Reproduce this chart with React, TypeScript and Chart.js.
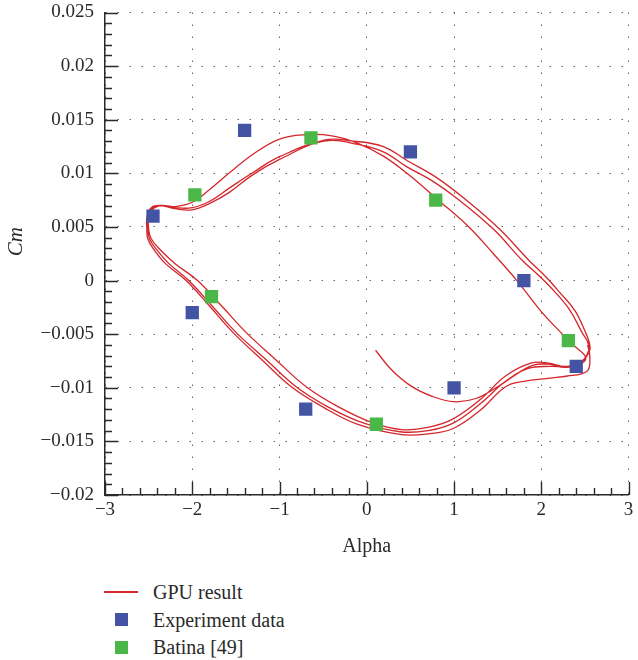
import React, { useEffect, useRef } from 'react';
import { Chart, registerables } from 'chart.js';

Chart.register(...registerables);

const FONT = '"Liberation Serif", "Times New Roman", Times, "DejaVu Serif", serif';
const INK = '#2a2a2a';
const GPU_COLOR = 'rgb(212, 38, 44)';
const EXP_COLOR = 'rgb(67, 84, 164)';
const BATINA_COLOR = 'rgb(75, 183, 72)';

const seriesNames = ['GPU result', 'Experiment data', 'Batina [49]'];
const xAxisTitle = 'Alpha';
const yAxisTitle = 'Cm';

// Measured pitching-moment coefficients
const experimentAlpha = [-2.45, -1.4, 0.5, -2.0, -0.7, 1.8, 1.0, 2.4];
const experimentCm = [0.006, 0.014, 0.012, -0.003, -0.012, 0.0, -0.01, -0.008];

// Reference solution
const batinaAlpha = [-1.97, -0.64, 0.79, -1.78, 2.31, 0.11];
const batinaCm = [0.008, 0.0133, 0.0075, -0.0015, -0.0056, -0.0134];

// GPU solver history, [alpha, Cm], split into its successive branches
const gpuStart: [number, number][] = [
  [0.10, -0.0065], [0.28, -0.0083], [0.50, -0.0098], [0.75, -0.0108], [1.00, -0.0113],
  [1.25, -0.0110], [1.50, -0.0099], [1.72, -0.0087], [1.90, -0.0079], [2.08, -0.0078],
  [2.27, -0.0081], [2.42, -0.0079], [2.51, -0.0072],
];
const gpuUpper1: [number, number][] = [
  [2.38, -0.0061], [2.23, -0.0049], [1.99, -0.0028], [1.72, 0.0000], [1.45, 0.0025],
  [1.17, 0.0050], [0.82, 0.0075], [0.46, 0.0100], [0.19, 0.0116], [-0.10, 0.0128],
  [-0.40, 0.0135], [-0.71, 0.0136], [-1.00, 0.0132], [-1.30, 0.0118], [-1.58, 0.0100],
  [-1.80, 0.0085], [-2.00, 0.0073], [-2.20, 0.0069], [-2.36, 0.0070], [-2.46, 0.0066],
  [-2.50, 0.0057],
];
const gpuLower1: [number, number][] = [
  [-2.50, 0.0048], [-2.47, 0.0039], [-2.37, 0.0029], [-2.20, 0.0016], [-1.94, 0.0000],
  [-1.66, -0.0024], [-1.375, -0.0049], [-1.04, -0.0074], [-0.695, -0.0099], [-0.32, -0.0118],
  [0.08, -0.0133], [0.40, -0.0139], [0.70, -0.0137], [0.99, -0.0129], [1.30, -0.0111],
  [1.59, -0.0089], [1.88, -0.0077], [2.08, -0.0077], [2.27, -0.0080], [2.44, -0.0077],
  [2.54, -0.0066],
];
const gpuUpper2: [number, number][] = [
  [2.53, -0.0057], [2.47, -0.0049], [2.33, -0.0028], [2.16, -0.0011], [1.98, 0.0004],
  [1.78, 0.0019], [1.45, 0.0048], [1.06, 0.0075], [0.75, 0.0093], [0.46, 0.0106],
  [0.19, 0.0120], [-0.10, 0.0127], [-0.49, 0.0130], [-1.00, 0.01155], [-1.30, 0.0101],
  [-1.58, 0.0086], [-1.80, 0.0074], [-2.00, 0.0068], [-2.20, 0.0068], [-2.36, 0.0070],
  [-2.47, 0.0067], [-2.51, 0.0058],
];
const gpuLower2: [number, number][] = [
  [-2.51, 0.0048], [-2.49, 0.0039], [-2.41, 0.0029], [-2.27, 0.0016], [-2.04, 0.0000],
  [-1.77, -0.0024], [-1.49, -0.0049], [-1.15, -0.0074], [-0.81, -0.0099], [-0.44, -0.0118],
  [-0.033, -0.0133], [0.38, -0.0141], [0.70, -0.0140], [0.99, -0.0133], [1.30, -0.0115],
  [1.59, -0.0094], [1.85, -0.0082], [2.10, -0.0080], [2.30, -0.0080], [2.47, -0.0075],
  [2.555, -0.0065],
];
const gpuUpper3: [number, number][] = [
  [2.55, -0.0058], [2.51, -0.0049], [2.385, -0.0028], [2.21, -0.0011], [2.045, 0.0004],
  [1.856, 0.0019], [1.52, 0.0048], [1.14, 0.0075], [0.80, 0.0096], [0.46, 0.0112],
  [0.19, 0.0125], [-0.15, 0.0130], [-0.49, 0.0131], [-1.00, 0.0113], [-1.30, 0.0099],
  [-1.58, 0.0082], [-1.80, 0.0072], [-2.00, 0.0066], [-2.20, 0.0067], [-2.36, 0.0070],
  [-2.47, 0.0068], [-2.52, 0.0059],
];
const gpuLower3: [number, number][] = [
  [-2.52, 0.0048], [-2.51, 0.0039], [-2.44, 0.0029], [-2.31, 0.0016], [-2.07, 0.0000],
  [-1.80, -0.0024], [-1.526, -0.0049], [-1.20, -0.0074], [-0.865, -0.0099], [-0.50, -0.0118],
  [-0.11, -0.0134], [0.38, -0.01435], [0.70, -0.0143], [0.99, -0.0138], [1.30, -0.0121],
  [1.59, -0.0099], [1.80, -0.0094], [2.10, -0.0091], [2.30, -0.0089], [2.46, -0.0087],
  [2.54, -0.0083], [2.555, -0.0070], [2.53, -0.0060],
];

const xTickLabels = ['−3', '−2', '−1', '0', '1', '2', '3'];
const yTickLabels = ['−0.02', '−0.015', '−0.01', '−0.005', '0', '0.005', '0.01', '0.015', '0.02', '0.025'];

const gpuPath = [
  ...gpuStart, ...gpuUpper1, ...gpuLower1, ...gpuUpper2, ...gpuLower2, ...gpuUpper3, ...gpuLower3,
];

// Inward major/minor tick marks along the left and bottom axes, plus the rotated y title
const axisDecor = {
  id: 'axisDecor',
  afterDatasetsDraw(chart: any) {
    const { ctx, chartArea, scales } = chart;
    const xs = scales.x;
    const ys = scales.y;
    ctx.save();
    ctx.strokeStyle = INK;
    ctx.lineWidth = 1.4;
    ctx.beginPath();
    for (let i = 0; i <= 30; i++) {
      const px = Math.round(xs.getPixelForValue(-3 + i * 0.2)) + 0.5;
      const len = i % 5 === 0 ? 13 : 7;
      ctx.moveTo(px, chartArea.bottom);
      ctx.lineTo(px, chartArea.bottom - len);
    }
    for (let i = 0; i <= 45; i++) {
      const py = Math.round(ys.getPixelForValue(-0.02 + i * 0.001)) + 0.5;
      const len = i % 5 === 0 ? 13 : 7;
      ctx.moveTo(chartArea.left, py);
      ctx.lineTo(chartArea.left + len, py);
    }
    ctx.stroke();

    ctx.translate(16, (chartArea.top + chartArea.bottom) / 2 - 12);
    ctx.rotate(-Math.PI / 2);
    ctx.font = `italic 21px ${FONT}`;
    ctx.fillStyle = INK;
    ctx.textAlign = 'center';
    ctx.textBaseline = 'middle';
    ctx.fillText(yAxisTitle, 0, 0);
    ctx.restore();
  },
};

export default function App() {
  const canvasRef = useRef<HTMLCanvasElement | null>(null);

  useEffect(() => {
    const canvas = canvasRef.current;
    if (!canvas) return;
    const chart = new Chart(canvas, {
      type: 'scatter',
      data: {
        datasets: [
          {
            label: seriesNames[1],
            data: experimentAlpha.map((a, i) => ({ x: a, y: experimentCm[i] })),
            pointStyle: 'rect',
            pointRadius: 9.4,
            pointBackgroundColor: EXP_COLOR,
            pointBorderWidth: 0,
            backgroundColor: EXP_COLOR,
            borderColor: EXP_COLOR,
          },
          {
            label: seriesNames[2],
            data: batinaAlpha.map((a, i) => ({ x: a, y: batinaCm[i] })),
            pointStyle: 'rect',
            pointRadius: 9.4,
            pointBackgroundColor: BATINA_COLOR,
            pointBorderWidth: 0,
            backgroundColor: BATINA_COLOR,
            borderColor: BATINA_COLOR,
          },
          {
            label: seriesNames[0],
            data: gpuPath.map(([a, c]) => ({ x: a, y: c })),
            showLine: true,
            borderColor: GPU_COLOR,
            borderWidth: 1.3,
            pointRadius: 0,
            tension: 0.4,
            fill: false,
          },
        ],
      },
      options: {
        animation: false,
        responsive: false,
        events: [],
        layout: { padding: { left: 0, right: 4, top: 12.5, bottom: 0 } },
        plugins: { legend: { display: false }, tooltip: { enabled: false } },
        scales: {
          x: {
            type: 'linear',
            min: -3,
            max: 3,
            ticks: {
              stepSize: 1,
              padding: 4,
              color: INK,
              font: { family: FONT, size: 19 },
              callback: (_v: any, i: number) => xTickLabels[i],
            },
            grid: { color: '#666', lineWidth: 1, drawTicks: false },
            border: { display: true, color: INK, width: 1.5, dash: [1.5, 10.5] },
            title: {
              display: true,
              text: xAxisTitle,
              color: INK,
              font: { family: FONT, size: 20 },
              padding: { top: 0, bottom: 11 },
            },
            afterFit: (axis: any) => {
              axis.height = 75;
              axis.paddingLeft = 0;
              axis.paddingRight = 0;
            },
          },
          y: {
            type: 'linear',
            min: -0.02,
            max: 0.025,
            ticks: {
              stepSize: 0.005,
              padding: 11,
              color: INK,
              font: { family: FONT, size: 19 },
              callback: (_v: any, i: number) => yTickLabels[i],
            },
            grid: { color: '#666', lineWidth: 1, drawTicks: false },
            border: { display: true, color: INK, width: 1.5, dash: [1.5, 10.5] },
            title: { display: false },
            afterFit: (axis: any) => {
              axis.width = 105;
              axis.paddingTop = 0;
              axis.paddingBottom = 0;
            },
          },
        },
      },
      plugins: [axisDecor],
    });
    return () => chart.destroy();
  }, []);

  const legendRows = [
    { name: seriesNames[0], kind: 'line', color: GPU_COLOR },
    { name: seriesNames[1], kind: 'box', color: EXP_COLOR },
    { name: seriesNames[2], kind: 'box', color: BATINA_COLOR },
  ];

  return (
    <div style={{ position: 'absolute', left: 0, top: 0, width: 638, height: 660, background: '#fff', fontFamily: FONT, color: INK }}>
      <canvas ref={canvasRef} width={638} height={570} style={{ display: 'block' }} />
      {legendRows.map((row, i) => (
        <div
          key={row.name}
          style={{ position: 'absolute', left: 104, top: 580 + i * 27.5, height: 24, display: 'flex', alignItems: 'center' }}
        >
          <div style={{ width: 34, height: 24, display: 'flex', alignItems: 'center', justifyContent: 'center' }}>
            {row.kind === 'line' ? (
              <div style={{ width: 34, height: 2, background: row.color }} />
            ) : (
              <div style={{ width: 13, height: 13, background: row.color }} />
            )}
          </div>
          <span style={{ marginLeft: 15, fontSize: 20, lineHeight: '24px', whiteSpace: 'nowrap' }}>{row.name}</span>
        </div>
      ))}
    </div>
  );
}
